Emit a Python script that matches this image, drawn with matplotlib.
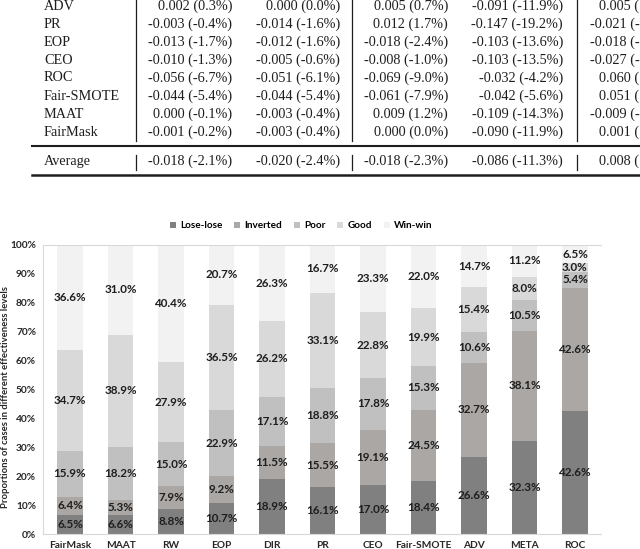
import numpy as np
import matplotlib
matplotlib.use('Agg')
import matplotlib.pyplot as plt
from matplotlib.patches import Patch
from matplotlib.lines import Line2D

W, H = 640, 549

# --- table (top of the page, partly cut off) ---
methods = ['ADV', 'PR', 'EOP', 'CEO', 'ROC', 'Fair-SMOTE', 'MAAT', 'FairMask']
col1 = ['0.002 (0.3%)', '-0.003 (-0.4%)', '-0.013 (-1.7%)', '-0.010 (-1.3%)',
        '-0.056 (-6.7%)', '-0.044 (-5.4%)', '0.000 (-0.1%)', '-0.001 (-0.2%)']
col2 = ['0.000 (0.0%)', '-0.014 (-1.6%)', '-0.012 (-1.6%)', '-0.005 (-0.6%)',
        '-0.051 (-6.1%)', '-0.044 (-5.4%)', '-0.003 (-0.4%)', '-0.003 (-0.4%)']
col3 = ['0.005 (0.7%)', '0.012 (1.7%)', '-0.018 (-2.4%)', '-0.008 (-1.0%)',
        '-0.069 (-9.0%)', '-0.061 (-7.9%)', '0.009 (1.2%)', '0.000 (0.0%)']
col4 = ['-0.091 (-11.9%)', '-0.147 (-19.2%)', '-0.103 (-13.6%)', '-0.103 (-13.5%)',
        '-0.032 (-4.2%)', '-0.042 (-5.6%)', '-0.109 (-14.3%)', '-0.090 (-11.9%)']
col5 = ['0.005 (', '-0.021 (-', '-0.018 (-', '-0.027 (-',
        '0.060 (', '0.051 (', '-0.009 (-', '0.001 (']
avg_row = ['-0.018 (-2.1%)', '-0.020 (-2.4%)', '-0.018 (-2.3%)', '-0.086 (-11.3%)', '0.008 (']

# --- stacked bar chart ---
categories = ['FairMask', 'MAAT', 'RW', 'EOP', 'DIR', 'PR', 'CEO',
              'Fair-SMOTE', 'ADV', 'META', 'ROC']
lose_lose = [6.5, 6.6, 8.8, 10.7, 18.9, 16.1, 17.0, 18.4, 26.6, 32.3, 42.6]
inverted = [6.4, 5.3, 7.9, 9.2, 11.5, 15.5, 19.1, 24.5, 32.7, 38.1, 42.6]
poor = [15.9, 18.2, 15.0, 22.9, 17.1, 18.8, 17.8, 15.3, 10.6, 10.5, 5.4]
good = [34.7, 38.9, 27.9, 36.5, 26.2, 33.1, 22.8, 19.9, 15.4, 8.0, 3.0]
win_win = [36.6, 31.0, 40.4, 20.7, 26.3, 16.7, 23.3, 22.0, 14.7, 11.2, 6.5]
levels = ['Lose-lose', 'Inverted', 'Poor', 'Good', 'Win-win']
colors = ['#808080', '#aaa7a5', '#c0c0c0', '#d9d9d9', '#f2f2f2']


def fx(x):
    return x / W


def fy(y):
    return 1 - y / H


fig = plt.figure(figsize=(6.4, 5.49), dpi=100)

serif = 'Liberation Serif'
ink = '#1e1e1e'
tsize = 10.3

# table rows
for i, name in enumerate(methods):
    y = fy(6 + 18 * i)
    fig.text(fx(44), y, name, family=serif, size=tsize, color=ink, va='center')
    for xr, col in zip([232, 340, 448, 563], [col1, col2, col3, col4]):
        fig.text(fx(xr), y, col[i], family=serif, size=tsize, color=ink,
                 va='center', ha='right')
    xs = 590 if col5[i].startswith('-') else 599
    fig.text(fx(xs), y, col5[i], family=serif, size=tsize, color=ink, va='center')

ya = fy(161)
fig.text(fx(44), ya, 'Average', family=serif, size=tsize, color=ink, va='center')
for xr, s in zip([232, 340, 448, 563], avg_row[:4]):
    fig.text(fx(xr), ya, s, family=serif, size=tsize, color=ink, va='center', ha='right')
fig.text(fx(599), ya, avg_row[4], family=serif, size=tsize, color=ink, va='center')

# table rules
for xv in [136, 352, 577]:
    fig.add_artist(Line2D([fx(xv)] * 2, [fy(0), fy(141)], color=ink, lw=0.9))
    fig.add_artist(Line2D([fx(xv)] * 2, [fy(155), fy(170)], color=ink, lw=0.9))
fig.add_artist(Line2D([fx(32), 1], [fy(146)] * 2, color=ink, lw=1.5))
fig.add_artist(Line2D([fx(32), 1], [fy(175)] * 2, color=ink, lw=1.8))

# chart
sans = 'Lato'
ax = fig.add_axes([fx(43), fy(534), fx(601) - fx(43), fy(245) - fy(534)])
x = np.arange(len(categories))
bottom = np.zeros(len(categories))
for name, vals, c in zip(levels, [lose_lose, inverted, poor, good, win_win], colors):
    vals = np.array(vals)
    ax.bar(x, vals, 0.5, bottom=bottom, color=c, label=name, linewidth=0)
    for xi, b, v in zip(x, bottom, vals):
        ax.text(xi, b + v / 2, f'{v:.1f}%', ha='center', va='center',
                family=sans, weight='bold', size=8.4, color=ink)
    bottom += vals

ax.set_xlim(-0.535, 10.515)
ax.set_ylim(0, 100)
ax.set_yticks(np.arange(0, 101, 10))
ax.set_yticklabels([f'{v}%' for v in range(0, 101, 10)])
ax.set_xticks(x)
ax.set_xticklabels(categories)
ax.tick_params(length=0, pad=5, labelsize=7.3, labelcolor='#262626')
for lab in ax.get_xticklabels() + ax.get_yticklabels():
    lab.set_family(sans)
    lab.set_weight('bold')
ax.spines['right'].set_visible(False)
for s in ['left', 'top', 'bottom']:
    ax.spines[s].set_color('#d9d9d9')
    ax.spines[s].set_linewidth(0.8)

fig.text(fx(6), fy(397), 'Proportions of cases in different effectiveness levels',
         rotation=90, ha='center', va='center', family=sans, weight='bold',
         size=6.8, color='#262626')

handles = [Patch(facecolor=c, edgecolor='none') for c in colors]
fig.legend(handles, levels, loc='center', bbox_to_anchor=(fx(301), fy(226)),
           ncol=5, frameon=False, handlelength=0.6, handleheight=0.6,
           handletextpad=0.45, columnspacing=1.15,
           prop={'family': sans, 'weight': 'bold', 'size': 7.2})

fig.savefig('out.png', dpi=100)
